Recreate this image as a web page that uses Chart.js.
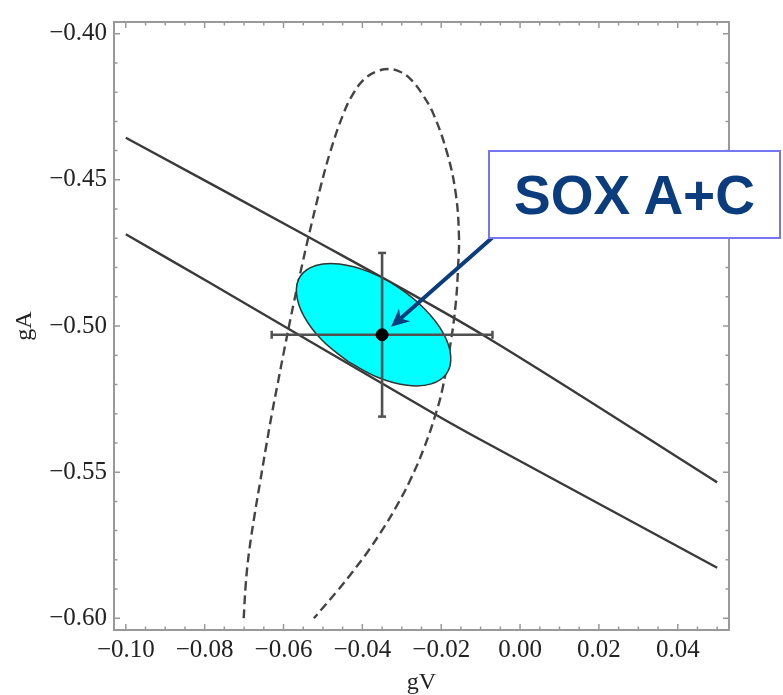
<!DOCTYPE html>
<html>
<head>
<meta charset="utf-8">
<script src="https://cdn.jsdelivr.net/npm/chart.js@4/dist/chart.umd.min.js"></script>
<style>
  html, body { margin: 0; padding: 0; background: #fff; }
  #wrap { position: relative; width: 783px; height: 695px; }
  #callout {
    position: absolute; box-sizing: border-box;
    border: 2px solid #7676f4; background: #fff;
    display: flex; align-items: center; justify-content: center;
    font-family: "Liberation Sans", Arial, sans-serif; font-weight: bold;
    font-size: 55px; color: #0b3d7e; white-space: nowrap;
  }
</style>
</head>
<body>
<div id="wrap">
  <canvas id="c" width="783" height="695"></canvas>
  <div id="callout">SOX A+C</div>
</div>
<script>
// Axis ticks
const xTicks = [-0.10, -0.08, -0.06, -0.04, -0.02, 0.00, 0.02, 0.04];
const yTicks = [-0.60, -0.55, -0.50, -0.45, -0.40];

// Solid band: upper and lower edges
const upperGV = [-0.100, -0.054, -0.009, 0.050];
const upperGA = [-0.4356, -0.4693, -0.5034, -0.5535];
const lowerGV = [-0.100, -0.0786, -0.0218, -0.010, 0.050];
const lowerGA = [-0.4686, -0.4853, -0.5300, -0.5389, -0.5827];

// Dashed contour, open at gA = -0.60 (left branch up, over the top, right branch down)
const dashedGV = [-0.0701, -0.0696, -0.0688, -0.0673, -0.0659, -0.0645, -0.0630, -0.0614, -0.0597, -0.0574,
                  -0.0553, -0.0536, -0.0506, -0.0481, -0.0449, -0.0425, -0.0397, -0.0367, -0.0334,
                  -0.0303, -0.0276, -0.0247, -0.0219, -0.0184, -0.0163, -0.0155, -0.0157, -0.0163,
                  -0.0176, -0.0197, -0.0214, -0.0244, -0.0280, -0.0316, -0.0351, -0.0390, -0.0426,
                  -0.0462, -0.0523];
const dashedGA = [-0.6000, -0.5887, -0.5779, -0.5643, -0.5531, -0.5419, -0.5304, -0.5192, -0.5074, -0.4921,
                  -0.4792, -0.4691, -0.4524, -0.4402, -0.4277, -0.4209, -0.4158, -0.4131, -0.4121,
                  -0.4131, -0.4158, -0.4209, -0.4277, -0.4413, -0.4548, -0.4691, -0.4792, -0.4921,
                  -0.5057, -0.5216, -0.5301, -0.5419, -0.5531, -0.5623, -0.5701, -0.5779, -0.5843,
                  -0.5904, -0.6000];

// Combined SOX A+C contour (closed)
const soxGV = [-0.0436, -0.0502, -0.0548, -0.0567, -0.0557, -0.0518, -0.0458, -0.0383,
               -0.0308, -0.0242, -0.0195, -0.0176, -0.0186, -0.0225, -0.0286, -0.0360];
const soxGA = [-0.5122, -0.5049, -0.4967, -0.4890, -0.4829, -0.4793, -0.4788, -0.4815,
               -0.4869, -0.4942, -0.5024, -0.5101, -0.5162, -0.5198, -0.5203, -0.5176];

// Central value with errors
const centralGV = [-0.035];
const centralGA = [-0.503];
const sigmaGV = [0.028];
const sigmaGA = [0.028];

// Callout box layout (pixels)
const calloutBox = { left: 488, top: 150, width: 293, height: 89 };

const zip = (xs, ys) => xs.map((x, i) => ({ x: x, y: ys[i] }));
const soxClosed = zip(soxGV.concat([soxGV[0]]), soxGA.concat([soxGA[0]]));

const hBar = [
  { x: centralGV[0] - sigmaGV[0], y: centralGA[0] },
  { x: centralGV[0] + sigmaGV[0], y: centralGA[0] }
];
const vBar = [
  { x: centralGV[0], y: centralGA[0] - sigmaGA[0] },
  { x: centralGV[0], y: centralGA[0] + sigmaGA[0] }
];

const cb = document.getElementById('callout');
cb.style.left = calloutBox.left + 'px';
cb.style.top = calloutBox.top + 'px';
cb.style.width = calloutBox.width + 'px';
cb.style.height = calloutBox.height + 'px';

const fmt = v => {
  const s = Math.abs(v).toFixed(2);
  return (v < -1e-9 ? '\u2212' : '') + s;
};

const serif = 'Liberation Serif, Times New Roman, serif';

// Frame with inward ticks on all four sides, plus the callout arrow
const framePlugin = {
  id: 'frame',
  afterDatasetsDraw(chart) {
    const { ctx, chartArea: a, scales: { x, y } } = chart;
    ctx.save();
    ctx.strokeStyle = '#999';
    ctx.lineWidth = 1.5;
    ctx.beginPath();
    for (let k = -20; k <= 10; k++) {
      const px = x.getPixelForValue(k * 0.005);
      const len = (k % 4 === 0) ? 6 : 3.5;
      ctx.moveTo(px, a.bottom); ctx.lineTo(px, a.bottom - len);
      ctx.moveTo(px, a.top); ctx.lineTo(px, a.top + len);
    }
    for (let k = -60; k <= -40; k++) {
      const py = y.getPixelForValue(k * 0.01);
      const len = (k % 5 === 0) ? 6 : 3.5;
      ctx.moveTo(a.left, py); ctx.lineTo(a.left + len, py);
      ctx.moveTo(a.right, py); ctx.lineTo(a.right - len, py);
    }
    ctx.stroke();
    ctx.lineWidth = 2;
    ctx.strokeRect(a.left, a.top, a.width, a.height);
    ctx.restore();
  },
  afterDraw(chart) {
    const { ctx, scales: { x, y } } = chart;
    const dx0 = x.getPixelForValue(centralGV[0]);
    const dy0 = y.getPixelForValue(centralGA[0]);
    const tx = calloutBox.left + 5, ty = calloutBox.top + calloutBox.height - 2;
    let ux = tx - dx0, uy = ty - dy0;
    const n = Math.hypot(ux, uy); ux /= n; uy /= n;
    const tipX = dx0 + ux * 12, tipY = dy0 + uy * 12;
    const L = 18, W = 8.5;
    const px = -uy, py = ux;
    ctx.save();
    ctx.strokeStyle = '#0b3d7e';
    ctx.fillStyle = '#0b3d7e';
    ctx.lineWidth = 4;
    ctx.beginPath();
    ctx.moveTo(tx, ty);
    ctx.lineTo(tipX + ux * L * 0.7, tipY + uy * L * 0.7);
    ctx.stroke();
    ctx.beginPath();
    ctx.moveTo(tipX, tipY);
    ctx.lineTo(tipX + ux * L + px * W, tipY + uy * L + py * W);
    ctx.lineTo(tipX + ux * L * 0.7, tipY + uy * L * 0.7);
    ctx.lineTo(tipX + ux * L - px * W, tipY + uy * L - py * W);
    ctx.closePath();
    ctx.fill();
    ctx.restore();
  }
};

new Chart(document.getElementById('c'), {
  type: 'scatter',
  data: {
    datasets: [
      { data: zip(upperGV, upperGA), showLine: true, borderColor: '#3a3a3a', borderWidth: 2.4,
        tension: 0.3, pointRadius: 0, fill: false, order: 6 },
      { data: zip(lowerGV, lowerGA), showLine: true, borderColor: '#3a3a3a', borderWidth: 2.4,
        tension: 0.3, pointRadius: 0, fill: false, order: 6 },
      { data: zip(dashedGV, dashedGA), showLine: true, borderColor: '#444', borderWidth: 2.4,
        borderDash: [9, 5], tension: 0.4, pointRadius: 0, fill: false, order: 5 },
      { data: soxClosed, showLine: true, borderColor: '#333', borderWidth: 1.5,
        backgroundColor: '#00ffff', fill: 'shape', tension: 0.4, pointRadius: 0, order: 4 },
      { data: hBar, showLine: true, borderColor: '#505050', borderWidth: 2.6, tension: 0,
        pointStyle: 'line', pointRotation: 90, pointRadius: 4, pointBorderWidth: 2.5,
        pointBorderColor: '#505050', order: 3 },
      { data: vBar, showLine: true, borderColor: '#505050', borderWidth: 2.6, tension: 0,
        pointStyle: 'line', pointRotation: 0, pointRadius: 4, pointBorderWidth: 2.5,
        pointBorderColor: '#505050', order: 3 },
      { data: zip(centralGV, centralGA), showLine: false, pointRadius: 6,
        pointBackgroundColor: '#000', pointBorderColor: '#000', order: 1 }
    ]
  },
  options: {
    responsive: false,
    animation: false,
    events: [],
    layout: { padding: { top: 15, right: 54, bottom: 0, left: 0 } },
    plugins: { legend: { display: false }, tooltip: { enabled: false } },
    scales: {
      x: {
        type: 'linear', min: -0.103, max: 0.053,
        grid: { display: false, drawTicks: false },
        border: { display: false },
        afterBuildTicks: s => { s.ticks = xTicks.map(v => ({ value: v })); },
        afterFit: s => { s.height = 65; },
        ticks: { autoSkip: false, maxRotation: 0, padding: 5, color: '#222',
                 font: { family: serif, size: 25 }, callback: v => fmt(v) },
        title: { display: true, text: 'gV', color: '#222',
                 font: { family: serif, size: 24, lineHeight: 1 }, padding: { top: 0, bottom: 0 } }
      },
      y: {
        type: 'linear', min: -0.604, max: -0.396,
        grid: { display: false, drawTicks: false },
        border: { display: false },
        afterBuildTicks: s => { s.ticks = yTicks.map(v => ({ value: v })); },
        afterFit: s => { s.width = 114; },
        ticks: { autoSkip: false, padding: 7, color: '#222',
                 font: { family: serif, size: 25 }, callback: v => fmt(v) },
        title: { display: true, text: 'gA', color: '#222',
                 font: { family: serif, size: 24, lineHeight: 1 }, padding: { top: 13, bottom: 0 } }
      }
    }
  },
  plugins: [framePlugin]
});
</script>
</body>
</html>
